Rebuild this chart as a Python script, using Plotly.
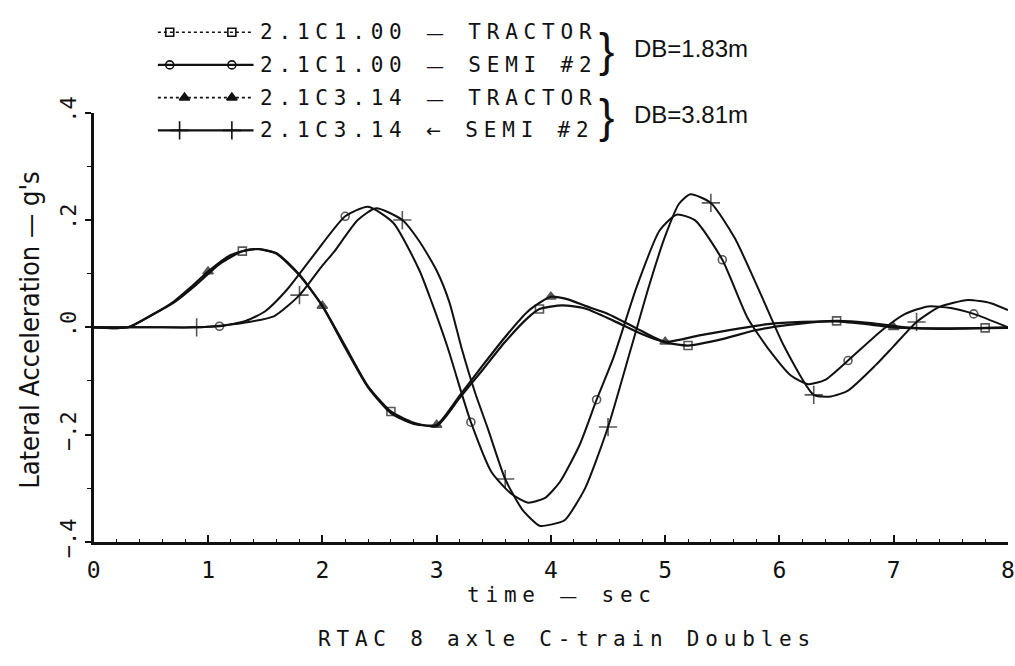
import plotly.graph_objects as go

# ---- lateral acceleration traces (time in s, acceleration in g) ----
t_trac_183 = [0, 0.3, 0.5, 0.7, 0.9, 1.1, 1.3, 1.45, 1.6, 1.8, 2.0, 2.2, 2.4, 2.6, 2.8, 3.0,
              3.2, 3.4, 3.6, 3.8, 3.9, 4.1, 4.3, 4.55, 4.8, 5.0, 5.2, 5.5, 5.8, 6.1, 6.5,
              6.8, 7.1, 7.4, 7.8, 8.0]
a_trac_183 = [0, 0, 0.022, 0.046, 0.08, 0.118, 0.142, 0.146, 0.137, 0.097, 0.04, -0.035,
              -0.11, -0.157, -0.178, -0.184, -0.132, -0.08, -0.027, 0.018, 0.034, 0.041,
              0.035, 0.012, -0.013, -0.028, -0.034, -0.022, -0.005, 0.005, 0.012, 0.008,
              0.0, -0.003, -0.001, 0.0]
mk_trac_183 = [1.3, 2.6, 3.9, 5.2, 6.5, 7.8]

t_semi_183 = [0, 0.5, 0.9, 1.1, 1.33, 1.5, 1.69, 1.93, 2.2, 2.4, 2.62, 2.85, 2.96, 3.1,
              3.22, 3.3, 3.48, 3.65, 3.8, 3.95, 4.08, 4.25, 4.4, 4.55, 4.75, 4.95, 5.1,
              5.26, 5.5, 5.72, 5.92, 6.1, 6.25, 6.4, 6.6, 6.9, 7.1, 7.3, 7.5, 7.7, 8.0]
a_semi_183 = [0, 0, 0, 0.002, 0.012, 0.03, 0.07, 0.136, 0.207, 0.225, 0.195, 0.106, 0.045,
              -0.04, -0.124, -0.177, -0.27, -0.31, -0.327, -0.318, -0.288, -0.22, -0.135,
              -0.055, 0.075, 0.18, 0.21, 0.2, 0.126, 0.018, -0.045, -0.09, -0.106, -0.098,
              -0.062, -0.005, 0.025, 0.039, 0.036, 0.025, 0.0]
mk_semi_183 = [1.1, 2.2, 3.3, 4.4, 5.5, 6.6, 7.7]

t_trac_381 = [0, 0.3, 0.5, 0.7, 0.85, 1.0, 1.2, 1.4, 1.6, 1.8, 2.0, 2.2, 2.4, 2.6, 2.8, 3.0,
              3.2, 3.4, 3.6, 3.8, 4.0, 4.15, 4.3, 4.5, 4.75, 5.0, 5.3, 5.6, 5.9, 6.2, 6.5,
              6.8, 7.0, 7.3, 7.6, 8.0]
a_trac_381 = [0, 0, 0.022, 0.048, 0.075, 0.104, 0.135, 0.146, 0.138, 0.098, 0.04, -0.038,
              -0.112, -0.16, -0.18, -0.182, -0.128, -0.072, -0.018, 0.03, 0.057, 0.052,
              0.04, 0.025, -0.002, -0.027, -0.015, -0.004, 0.006, 0.01, 0.011, 0.005, 0.0,
              -0.002, -0.002, -0.001]
mk_trac_381 = [1.0, 2.0, 3.0, 4.0, 5.0, 6.0, 7.0]

t_semi_381 = [0, 0.5, 0.9, 1.1, 1.3, 1.58, 1.8, 2.0, 2.1, 2.31, 2.47, 2.7, 2.85, 3.0, 3.11,
              3.22, 3.34, 3.45, 3.6, 3.75, 3.9, 4.0, 4.12, 4.3, 4.5, 4.7, 4.86, 5.0, 5.12,
              5.22, 5.4, 5.61, 5.84, 6.04, 6.3, 6.45, 6.6, 6.84, 7.0, 7.2, 7.4, 7.65,
              7.85, 8.0]
a_semi_381 = [0, 0, 0, 0.003, 0.008, 0.021, 0.06, 0.115, 0.14, 0.2, 0.222, 0.2, 0.16, 0.106,
              0.048, -0.04, -0.124, -0.19, -0.283, -0.34, -0.37, -0.368, -0.36, -0.3, -0.186,
              -0.04, 0.078, 0.17, 0.23, 0.248, 0.232, 0.166, 0.06, -0.035, -0.126, -0.129,
              -0.118, -0.071, -0.035, 0.01, 0.038, 0.051, 0.045, 0.032]
mk_semi_381 = [0.9, 1.8, 2.7, 3.6, 4.5, 5.4, 6.3, 7.2]

# key entries: (run id, separator, unit)
run_ids = ["2.1C1.00", "2.1C1.00", "2.1C3.14", "2.1C3.14"]
run_seps = ["—", "—", "—", "←"]
run_units = ["TRACTOR", "SEMI #2", "TRACTOR", "SEMI #2"]
group_labels = ["DB=1.83m", "DB=3.81m"]

x_ticks = [0, 1, 2, 3, 4, 5, 6, 7, 8]
y_ticks = [-0.4, -0.2, 0.0, 0.2, 0.4]
y_tick_text = ["−.4", "−.2", ".0", ".2", ".4"]

x_title = ("time", "—", "sec")
y_title = "Lateral Acceleration — g's"
chart_title = "RTAC 8 axle C-train Doubles"

INK = "#111111"
PLOT_FONT = "DejaVu Sans Mono"
W, H = 1015, 666
SPACING = 5.8

styles = [
    dict(symbol="square-open", size=8, lw=2.2, key_dash="dot", key_lw=1.6),
    dict(symbol="circle-open", size=8, lw=2.0, key_dash="solid", key_lw=2.2),
    dict(symbol="triangle-up", size=9, lw=2.2, key_dash="dot", key_lw=1.6),
    dict(symbol="cross-thin-open", size=13, lw=2.0, key_dash="solid", key_lw=2.2),
]

data = [
    (t_trac_183, a_trac_183, mk_trac_183),
    (t_semi_183, a_semi_183, mk_semi_183),
    (t_trac_381, a_trac_381, mk_trac_381),
    (t_semi_381, a_semi_381, mk_semi_381),
]


def spaced(text, px=SPACING):
    return f'<span style="letter-spacing:{px}px">{text}</span>'


def with_dash(left, sep, right):
    # plotter-style long separator between mono-spaced words
    return (spaced(left + " ")
            + f'<span style="font-family:DejaVu Sans;font-size:18px;letter-spacing:{SPACING}px">{sep}</span>'
            + spaced(" " + right))


fig = go.Figure()

for (t, a, marks), st, rid, unit in zip(data, styles, run_ids, run_units):
    mset = set(marks)
    sizes = [st["size"] if ti in mset else 0 for ti in t]
    fig.add_trace(go.Scatter(
        x=t, y=a, name=f"{rid} {unit}", mode="lines+markers",
        line=dict(color=INK, width=st["lw"], shape="spline", smoothing=0.6),
        marker=dict(symbol=st["symbol"], size=sizes, color=INK,
                    line=dict(color=INK, width=1.6)),
        showlegend=False, hoverinfo="skip",
    ))

# ---- key: sample strokes drawn on a full-canvas pixel axis ----
row_y = [16, 50.5, 85, 119.5]
key_x0, key_x1 = 153, 250
key_marks = [[165, 228], [165, 228], [180, 228], [175, 228]]
for ry, st, km in zip(row_y, styles, key_marks):
    fig.add_trace(go.Scatter(
        x=[key_x0, key_x1], y=[ry, ry], mode="lines", xaxis="x2", yaxis="y2",
        line=dict(color=INK, width=st["key_lw"], dash=st["key_dash"]),
        showlegend=False, hoverinfo="skip"))
    fig.add_trace(go.Scatter(
        x=km, y=[ry, ry], mode="markers", xaxis="x2", yaxis="y2",
        marker=dict(symbol=st["symbol"], size=st["size"], color=INK,
                    line=dict(color=INK, width=1.6)),
        showlegend=False, hoverinfo="skip"))

annotations = []
for ry, rid, sep, unit in zip(row_y, run_ids, run_seps, run_units):
    annotations.append(dict(
        x=255, y=ry, xref="x2", yref="y2", xanchor="left", yanchor="middle",
        text=with_dash(rid, sep, unit), showarrow=False,
        font=dict(family=PLOT_FONT, size=21, color=INK)))

for i, lab in enumerate(group_labels):
    ymid = (row_y[2 * i] + row_y[2 * i + 1]) / 2
    annotations.append(dict(
        x=608, y=ymid + 2, xref="x2", yref="y2", xanchor="center", yanchor="middle",
        text="}", showarrow=False,
        font=dict(family="Liberation Sans", size=46, color=INK)))
    annotations.append(dict(
        x=634, y=ymid, xref="x2", yref="y2", xanchor="left", yanchor="middle",
        text=lab, showarrow=False,
        font=dict(family="Liberation Sans", size=24, color=INK)))

annotations.append(dict(
    x=563, y=609, xref="x2", yref="y2", xanchor="center", yanchor="middle",
    text=with_dash(*x_title), showarrow=False,
    font=dict(family=PLOT_FONT, size=21, color=INK)))
annotations.append(dict(
    x=568, y=655, xref="x2", yref="y2", xanchor="center", yanchor="middle",
    text=spaced(chart_title), showarrow=False,
    font=dict(family=PLOT_FONT, size=21, color=INK)))
annotations.append(dict(
    x=22, y=330, xref="x2", yref="y2", xanchor="center", yanchor="middle",
    text=y_title, textangle=-90, showarrow=False,
    font=dict(family="DejaVu Sans Condensed, Liberation Sans Narrow", size=27, color=INK)))

x_left = 88 / W
y_bot = (H - 553) / H
y_top = (H - 101) / H

fig.update_layout(
    width=W, height=H,
    margin=dict(l=0, r=0, t=0, b=0),
    paper_bgcolor="white", plot_bgcolor="rgba(0,0,0,0)",
    showlegend=False,
    annotations=annotations,
    xaxis=dict(
        domain=[x_left, 1.0], range=[0, 8], tickvals=x_ticks,
        showline=True, linewidth=3, linecolor=INK, mirror=False,
        ticks="inside", ticklen=7, tickwidth=1.5, tickcolor=INK,
        minor=dict(ticks="inside", ticklen=3, tickwidth=1, tickcolor=INK, dtick=0.2),
        showgrid=False, zeroline=False, anchor="y",
        ticklabelstandoff=6, ticklabeloverflow="allow",
        tickfont=dict(family=PLOT_FONT, size=23, color=INK),
    ),
    yaxis=dict(
        domain=[y_bot, y_top], range=[-0.4, 0.4], tickvals=y_ticks, ticktext=y_tick_text,
        tickangle=-90, showline=True, linewidth=3, linecolor=INK,
        ticks="outside", ticklen=6, tickwidth=1.5, tickcolor=INK,
        minor=dict(ticks="outside", ticklen=4, tickwidth=1, tickcolor=INK, dtick=0.1),
        showgrid=False, zeroline=False, anchor="x", ticklabeloverflow="allow",
        tickfont=dict(family=PLOT_FONT, size=22, color=INK),
    ),
    xaxis2=dict(domain=[0, 1], range=[0, W], visible=False, fixedrange=True, anchor="y2"),
    yaxis2=dict(domain=[0, 1], range=[H, 0], visible=False, fixedrange=True, anchor="x2"),
)

fig.write_html("out.html")
